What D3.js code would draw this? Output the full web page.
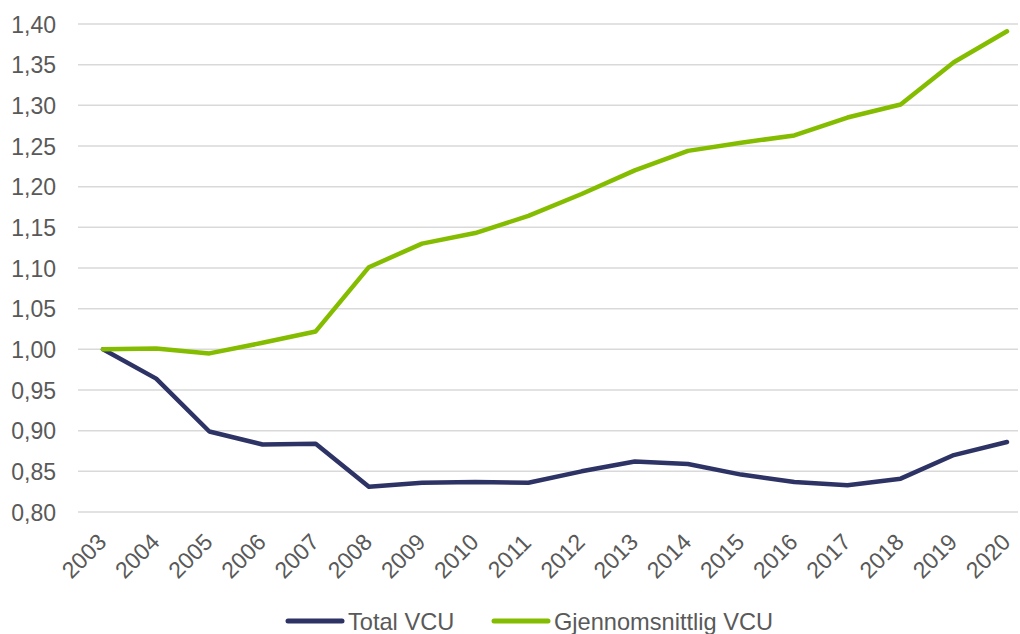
<!DOCTYPE html>
<html>
<head>
<meta charset="utf-8">
<script src="https://cdn.jsdelivr.net/npm/d3@7"></script>
<style>
  html, body { margin: 0; padding: 0; background: #fff; }
  svg { display: block; }
  text { font-family: "Liberation Sans", Arial, sans-serif; fill: #595959; }
</style>
</head>
<body>
<svg id="chart" width="1020" height="634"></svg>
<script>
const years = ["2003","2004","2005","2006","2007","2008","2009","2010","2011","2012","2013","2014","2015","2016","2017","2018","2019","2020"];
const totalVCU = [1.000,0.964,0.899,0.883,0.884,0.831,0.836,0.837,0.836,0.850,0.862,0.859,0.846,0.837,0.833,0.841,0.870,0.886];
const avgVCU = [1.000,1.001,0.995,1.008,1.022,1.101,1.130,1.143,1.164,1.191,1.220,1.244,1.254,1.263,1.285,1.301,1.353,1.391];
const yTicks = [0.80,0.85,0.90,0.95,1.00,1.05,1.10,1.15,1.20,1.25,1.30,1.35,1.40];
const seriesNames = ["Total VCU","Gjennomsnittlig VCU"];
const colors = ["#2e3366","#84bd00"];

const svg = d3.select("#chart");
const x = d3.scalePoint().domain(years).range([103, 1007]);
const y = d3.scaleLinear().domain([0.80, 1.40]).range([512, 24]);
const fmt = v => d3.format(".2f")(v).replace(".", ",");

// gridlines
svg.append("g").selectAll("line").data(yTicks).join("line")
  .attr("x1", 78).attr("x2", 1018)
  .attr("y1", d => y(d)).attr("y2", d => y(d))
  .attr("stroke", "#d9d9d9").attr("stroke-width", 1.5);

// y labels
svg.append("g").selectAll("text").data(yTicks).join("text")
  .attr("x", 56).attr("y", d => y(d) + 8.5)
  .attr("text-anchor", "end").attr("font-size", 23)
  .text(fmt);

// x labels
svg.append("g").selectAll("text").data(years).join("text")
  .attr("text-anchor", "middle").attr("dominant-baseline", "central")
  .attr("font-size", 23)
  .attr("transform", d => `translate(${x(d) - 19},556) rotate(-45)`)
  .text(d => d);

const line = d3.line().x((d, i) => x(years[i])).y(d => y(d));
[totalVCU, avgVCU].forEach((s, k) => {
  svg.append("path").datum(s)
    .attr("d", line).attr("fill", "none")
    .attr("stroke", colors[k]).attr("stroke-width", 4.5)
    .attr("stroke-linejoin", "round").attr("stroke-linecap", "round");
});

// legend
const legX = [288, 494];
seriesNames.forEach((n, k) => {
  svg.append("line").attr("x1", legX[k]).attr("x2", legX[k] + 54)
    .attr("y1", 621).attr("y2", 621)
    .attr("stroke", colors[k]).attr("stroke-width", 5).attr("stroke-linecap", "round");
  svg.append("text").attr("x", legX[k] + 60).attr("y", 630)
    .attr("font-size", 23.6).text(n);
});
</script>
</body>
</html>
